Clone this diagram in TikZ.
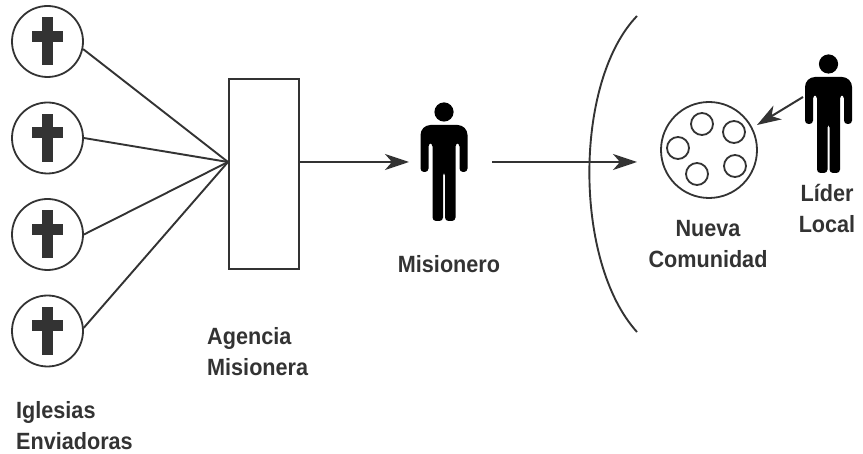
\documentclass[tikz,border=0pt]{standalone}
\usepackage{fontspec}
\setmainfont[FakeStretch=0.92]{Liberation Sans}
\usetikzlibrary{arrows.meta}
\definecolor{ink}{gray}{0.2}
\tikzset{
  church/.style={circle,draw=ink,line width=1.8pt,minimum size=71pt,inner sep=0pt},
  member/.style={circle,draw=ink,line width=1.8pt,minimum size=22pt,inner sep=0pt},
  link/.style={draw=ink,line width=1.9pt},
  flow/.style={draw=ink,line width=2pt,-{Stealth[length=24pt,width=16pt,inset=7pt]}},
  lab/.style={font=\bfseries\fontsize{23.5}{31}\selectfont,text=ink,inner sep=0pt},
  pics/crossmark/.style={code={
    \fill[ink] (-5.5,24) rectangle (5.5,-24);
    \fill[ink] (-15.5,10.5) rectangle (15.5,-0.5);
  }},
  pics/figure/.style={code={
    \fill[black] (0,0) circle (9.6);
    \fill[black,rounded corners=3.5pt] (-23.5,-30) [rounded corners=10pt] -- (-23.5,-13) -- (23.5,-13) [rounded corners=3.5pt] -- (23.5,-60) -- (15.5,-60) -- (15.5,-31) -- (11.5,-31) -- (11.5,-109) -- (1,-109) -- (1,-60) -- (-1,-60) -- (-1,-109) -- (-11.5,-109) -- (-11.5,-31) -- (-15.5,-31) -- (-15.5,-60) -- (-23.5,-60) -- cycle;
  }}
}
\begin{document}
\begin{tikzpicture}[x=1pt,y=1pt]
\useasboundingbox (0,0) rectangle (863,-454);
\fill[white] (0,0) rectangle (863,-454);
\node[church] (c1) at (47.5,-41.5) {};
\node[church] (c2) at (47.5,-138) {};
\node[church] (c3) at (47.5,-234.5) {};
\node[church] (c4) at (47.5,-331) {};
\foreach \n in {c1,c2,c3,c4} \pic at (\n) {crossmark};
\node[draw=ink,line width=2pt,minimum width=70pt,minimum height=190pt,inner sep=0pt] (agency) at (264,-174) {};
\coordinate (apex) at (228,-162);
\draw[link] (c1.-12) -- (apex);
\draw[link] (c2.0) -- (apex);
\draw[link] (c3.0) -- (apex);
\draw[link] (c4.5) -- (apex);
\coordinate (mis) at (444,-112);
\pic at (mis) {figure};
\coordinate (lead) at (828.5,-64);
\pic at (lead) {figure};
\coordinate (agout) at (299,-162);
\coordinate (misin) at (409,-162);
\coordinate (misout) at (492,-162);
\coordinate (comin) at (637,-162);
\draw[flow] (agout) -- (misin);
\draw[flow] (misout) -- (comin);
\coordinate (arcA) at (637,-16);
\coordinate (arcB) at (637,-332);
\draw[ink,line width=1.9pt] (arcA) .. controls (573.5,-82) and (573.5,-262) .. (arcB);
\node[circle,draw=ink,line width=1.8pt,minimum size=96pt,inner sep=0pt] (com) at (709,-150) {};
\node[member] (m1) at (702,-124) {};
\node[member] (m2) at (734,-132) {};
\node[member] (m3) at (678,-148) {};
\node[member] (m4) at (735,-166) {};
\node[member] (m5) at (697,-174) {};
\coordinate (leadout) at (803,-97);
\coordinate (leadin) at (757,-125);
\draw[flow] (leadout) -- (leadin);
\node[lab,align=left,anchor=west] (t1) at (16,-426) {Iglesias\\Enviadoras};
\node[lab,align=left,anchor=west] (t2) at (207,-351.5) {Agencia\\Misionera};
\node[lab] (t3) at (449,-264) {Misionero};
\node[lab,align=center] (t4) at (708,-244.5) {Nueva\\Comunidad};
\node[lab,align=center] (t5) at (827,-208.5) {Líder\\Local};
\end{tikzpicture}
\end{document}
